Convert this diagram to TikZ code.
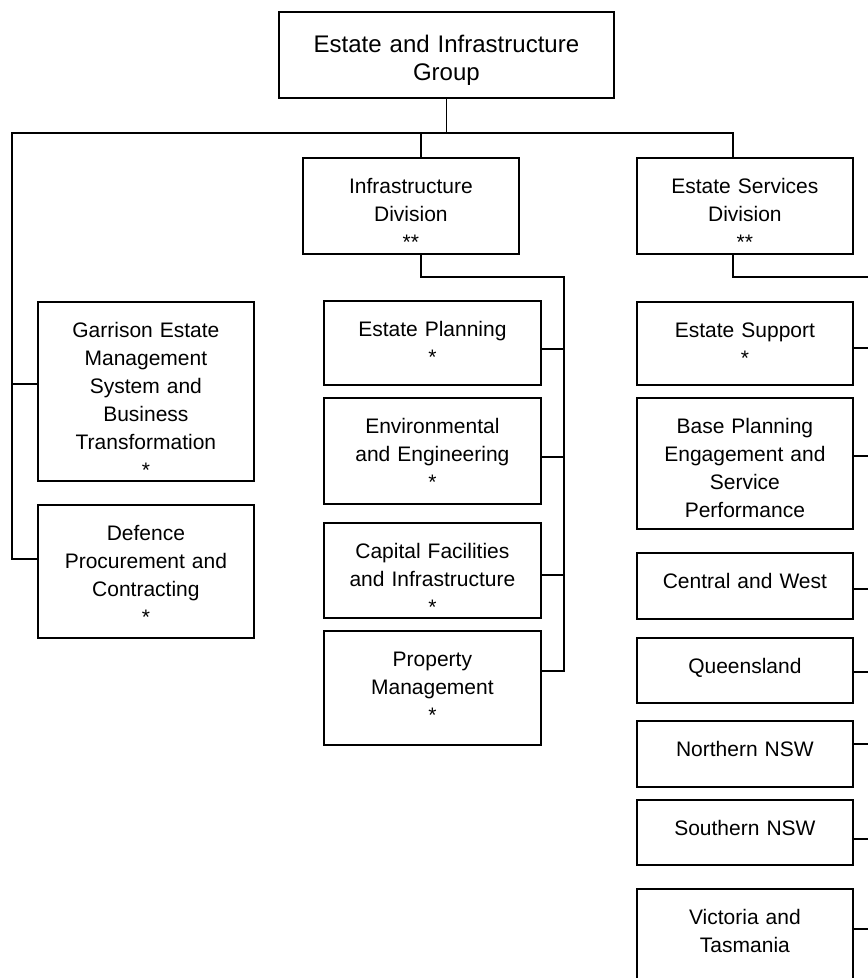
\documentclass[tikz,border=0pt]{standalone}
\usepackage{fontspec}
\setmainfont{Liberation Sans}
\begin{document}
\begin{tikzpicture}[x=1pt,y=-1pt,
  % box: width, height, distance from top edge to first baseline
  orgbox/.style n args={3}{draw, line width=1.8pt, anchor=north west,
    inner xsep=4pt, inner ysep=0pt, align=center,
    text width=#1pt-8pt, text height=#3pt, text depth=#2pt-#3pt},
  headbox/.style 2 args={orgbox={#1}{#2}{41}, font=\fontsize{24}{28}\selectfont},
  unitbox/.style 2 args={orgbox={#1}{#2}{36}, font=\fontsize{21}{28}\selectfont},
  wire/.style={line width=1.8pt}]
\useasboundingbox (0,0) rectangle (868,978);
\fill[white] (0,0) rectangle (868,978);
\clip (0,0) rectangle (868,978);

% group head and divisions
\node[headbox={335}{86}] (top) at (278,11) {Estate and Infrastructure\\Group};
\node[unitbox={216}{96}] (infdiv) at (302,157) {Infrastructure\\Division\\{**}};
\node[unitbox={216}{96}] (esdiv) at (636,157) {Estate Services\\Division\\{**}};

% branches reporting directly to the group
\node[unitbox={216}{179}] (gems) at (37,301) {Garrison Estate\\Management\\System and\\Business\\Transformation\\{*}};
\node[unitbox={216}{133}] (dpc) at (37,504) {Defence\\Procurement and\\Contracting\\{*}};

% Infrastructure Division branches
\node[unitbox={217}{84}] (ep) at (323,300) {Estate Planning\\{*}};
\node[unitbox={217}{106}] (env) at (323,397) {Environmental\\and Engineering\\{*}};
\node[unitbox={217}{95}] (cap) at (323,522) {Capital Facilities\\and Infrastructure\\{*}};
\node[unitbox={217}{114}] (prop) at (323,630) {Property\\Management\\{*}};

% Estate Services Division branches and regions
\node[unitbox={216}{83}] (es) at (636,301) {Estate Support\\{*}};
\node[unitbox={216}{131}] (bp) at (636,397) {Base Planning\\Engagement and\\Service\\Performance};
\node[unitbox={216}{66}] (cw) at (636,552) {Central and West};
\node[unitbox={216}{65}] (qld) at (636,637) {Queensland};
\node[unitbox={216}{66}] (nnsw) at (636,720) {Northern NSW};
\node[unitbox={216}{65}] (snsw) at (636,799) {Southern NSW};
\node[unitbox={216}{110}] (vic) at (636,888) {Victoria and\\Tasmania};

% junction points
\coordinate (lbus) at (12,133);
\coordinate (ispine) at (564,277);
\coordinate (espine) at (880,277);
\coordinate (itop) at ([xshift=10pt]infdiv.north);
\coordinate (ibot) at ([xshift=10pt]infdiv.south);
\coordinate (etop) at ([xshift=-12pt]esdiv.north);
\coordinate (ebot) at ([xshift=-12pt]esdiv.south);

\coordinate (gemsin) at ([yshift=-83pt]gems.north west);
\coordinate (dpcin) at ([yshift=-55pt]dpc.north west);

\coordinate (epin) at ([yshift=-49pt]ep.north east);
\coordinate (envin) at ([yshift=-60pt]env.north east);
\coordinate (capin) at ([yshift=-53pt]cap.north east);
\coordinate (propin) at ([yshift=-41pt]prop.north east);

\coordinate (esin) at ([yshift=-47pt]es.north east);
\coordinate (bpin) at ([yshift=-59pt]bp.north east);
\coordinate (cwin) at ([yshift=-37pt]cw.north east);
\coordinate (qldin) at ([yshift=-35pt]qld.north east);
\coordinate (nnswin) at ([yshift=-24pt]nnsw.north east);
\coordinate (snswin) at ([yshift=-40pt]snsw.north east);
\coordinate (vicin) at ([yshift=-41pt]vic.north east);

% group bus
\draw[wire] (top.south) -- (top.south |- lbus);
\draw[wire] (etop) -- (etop |- lbus) -- (lbus) |- (dpcin);
\draw[wire] (itop |- lbus) -- (itop);
\draw[wire] (gemsin) -- (gemsin -| lbus);

% Infrastructure Division spine
\draw[wire] (ibot) |- (ispine) -- (ispine |- propin) -- (propin);
\foreach \b in {epin,envin,capin}
  \draw[wire] (\b) -- (\b -| ispine);

% Estate Services Division spine
\draw[wire] (ebot) |- (espine) -- (espine |- vicin) -- (vicin);
\foreach \b in {esin,bpin,cwin,qldin,nnswin,snswin}
  \draw[wire] (\b) -- (\b -| espine);
\end{tikzpicture}
\end{document}
